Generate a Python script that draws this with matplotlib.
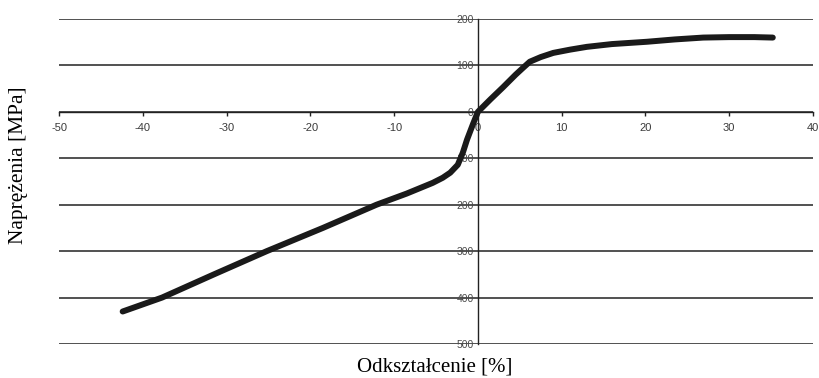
import matplotlib
matplotlib.use("Agg")
import matplotlib.pyplot as plt

plt.rcParams["font.family"] = ["Liberation Sans", "DejaVu Sans"]

strain = [-42.4, -37.7, -31.5, -25.2, -18.5, -12.1, -8.5, -5.4, -4.2, -3.3, -2.4, -1.8, -1.3, -0.6, 0.0,
          1.5, 3.0, 4.5, 5.4, 6.2, 7.5, 9.0, 11.0, 13.0, 16.0, 20.2, 23.5, 26.9, 30.0, 33.0, 35.2]
stress = [-430, -400, -350, -300, -250, -200, -176, -153, -142, -131, -114, -88, -60, -27, 0,
          27, 53, 80, 95, 108, 118, 127, 134, 140, 146, 151, 156, 160, 161, 161, 160]

xticks = [-50, -40, -30, -20, -10, 0, 10, 20, 30, 40]
xticklabels = ["-50", "-40", "-30", "-20", "-10", "0", "10", "20", "30", "40"]
yticks = [200, 100, 0, -100, -200, -300, -400, -500]
yticklabels = ["200", "100", "0", "100", "200", "300", "400", "500"]

fig = plt.figure(figsize=(8.19, 3.78), dpi=100)
ax = fig.add_axes([59/819, 1-344/378, (813-59)/819, (344-19)/378])

ax.plot(strain, stress, color="#1a1a1a", lw=4.3, solid_capstyle="round", solid_joinstyle="round", zorder=3)

ax.spines["left"].set_position(("data", 0))
ax.spines["bottom"].set_position(("data", 0))
ax.spines["top"].set_visible(False)
ax.spines["right"].set_visible(False)
for s in ("left", "bottom"):
    ax.spines[s].set_linewidth(1.0)
    ax.spines[s].set_color("#222222")

ax.tick_params(axis="x", direction="out", length=3, width=1, pad=5, color="#222222",
               labelsize=8, labelcolor="#3a3a3a")
ax.tick_params(axis="y", length=0, pad=3, labelsize=7.5, labelcolor="#4a4a4a")

ax.set_xlim(-50, 40)
ax.set_ylim(-500, 200)
ax.set_xticks(xticks)
ax.set_xticklabels(xticklabels)
ax.set_yticks(yticks)
ax.set_yticklabels(yticklabels)

ax.yaxis.grid(True, color="#222222", lw=1.1)
ax.set_axisbelow(True)

fig.text(435/819, 1-367/378, "Odkształcenie [%]", ha="center", va="center",
         family="Liberation Serif", fontsize=15)
fig.text(19/819, 1-165/378, "Naprężenia [MPa]", ha="center", va="center", rotation=90,
         family="Liberation Serif", fontsize=15.5)

fig.savefig("out.png", dpi=100)
